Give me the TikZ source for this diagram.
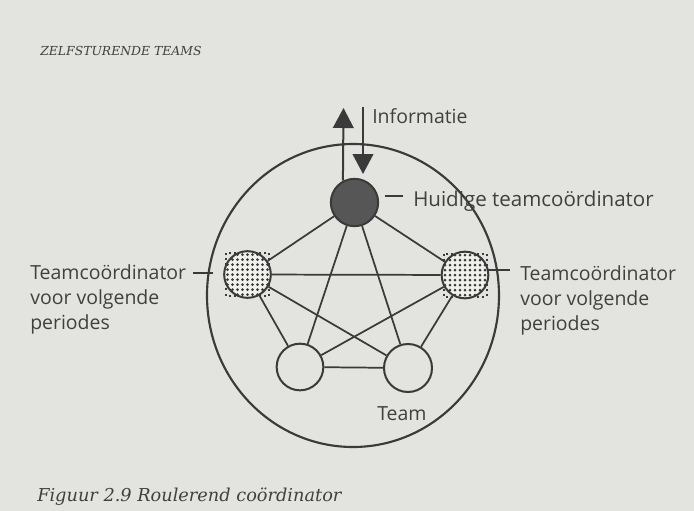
\documentclass[tikz,border=0pt]{standalone}
\usepackage{fontspec}
\setmainfont{Open Sans}
\newfontfamily\bookfont{DejaVu Serif}
\usetikzlibrary{arrows.meta}

\definecolor{paper}{RGB}{227,227,223}
\definecolor{ink}{RGB}{58,58,58}
\definecolor{inktext}{RGB}{64,64,64}
\definecolor{darkfill}{RGB}{86,86,86}
\definecolor{dotfill}{RGB}{240,240,237}

\tikzset{
  member/.style={circle, draw=ink, line width=1.5pt, minimum size=35pt, inner sep=0pt},
  link/.style={draw=ink, line width=1.3pt},
  leader/.style={draw=ink, line width=2.2pt},
  flow/.style={draw=ink, line width=1.5pt, -{Triangle[length=15pt,width=15.5pt]}},
  lbl/.style={text=inktext, font=\fontsize{14.6}{18.4}\selectfont, inner sep=0pt, anchor=base west, align=left},
  booktext/.style={text=inktext, inner sep=0pt, anchor=base west},
  dotted frame/.style={draw=ink, line width=1.5pt, dash pattern=on 1.5pt off 2.3pt},
  stippled/.style={member, fill=dotfill,
    path picture={
      \foreach \i in {-5,...,5}
        \foreach \j in {-5,...,5}
          \fill[ink] (path picture bounding box.center) ++(\i*5,\j*5) circle (1.5);
    }},
}

\begin{document}
\begin{tikzpicture}[x=0.75pt,y=-0.75pt]
  % page
  \fill[paper] (0,0) rectangle (694,511);
  \useasboundingbox (0,0) rectangle (694,511);

  % running head and caption
  \node[booktext, font=\bookfont\itshape\fontsize{9.3}{11}\selectfont] (head) at (40,55) {ZELFSTURENDE TEAMS};
  \node[booktext, font=\bookfont\itshape\fontsize{13.3}{16}\selectfont] (caption) at (37,501) {Figuur 2.9 Roulerend coördinator};

  % team boundary
  \draw[ink, line width=1.6pt] (353,295.5) ellipse [x radius=146, y radius=151.5];

  % dotted frames behind the future coordinators (only the corners show)
  \draw[dotted frame] (226,253) rectangle (269,296);
  \draw[dotted frame] (443.5,253.5) rectangle (486.5,296.5);

  % members
  \node[member, fill=darkfill, minimum size=35.5pt] (cur) at (354.5,202.5) {};
  \node[stippled] (lft) at (247.5,274.5) {};
  \node[stippled] (rgt) at (465,275) {};
  \node[member, fill=paper] (bl) at (300,367) {};
  \node[member, fill=paper, minimum size=36pt] (br) at (408,368) {};

  % every member linked to every other
  \foreach \a/\b in {cur/lft, cur/rgt, cur/bl, cur/br, lft/rgt, lft/bl, lft/br, rgt/bl, rgt/br, bl/br}
    \draw[link] (\a) -- (\b);

  % information in and out
  \coordinate (outtip) at (343.5,108);
  \coordinate (intail) at (363,107);
  \coordinate (intip) at (363,174);
  \draw[flow] (cur.118) -- (outtip);
  \draw[flow] (intail) -- (intip);
  \node[lbl] (info) at (372,123) {Informatie};

  % labels with leaders
  \coordinate (c1) at (385,196);
  \coordinate (c2) at (403,196);
  \draw[leader] (c1) -- (c2);
  \node[lbl, font=\fontsize{15.4}{18.4}\selectfont] (curlbl) at (413,206) {Huidige teamcoördinator};

  \coordinate (l1) at (193,273);
  \coordinate (l2) at (213,273);
  \draw[leader] (l1) -- (l2);
  % anchored on the baseline of the last line
  \node[lbl] (lftlbl) at (30,329) {Teamcoördinator\\voor volgende\\periodes};

  \coordinate (r1) at (488,270);
  \coordinate (r2) at (510,270);
  \draw[leader] (r1) -- (r2);
  \node[lbl] (rgtlbl) at (520,330) {Teamcoördinator\\voor volgende\\periodes};

  \node[lbl] (teamlbl) at (377,420) {Team};
\end{tikzpicture}
\end{document}
